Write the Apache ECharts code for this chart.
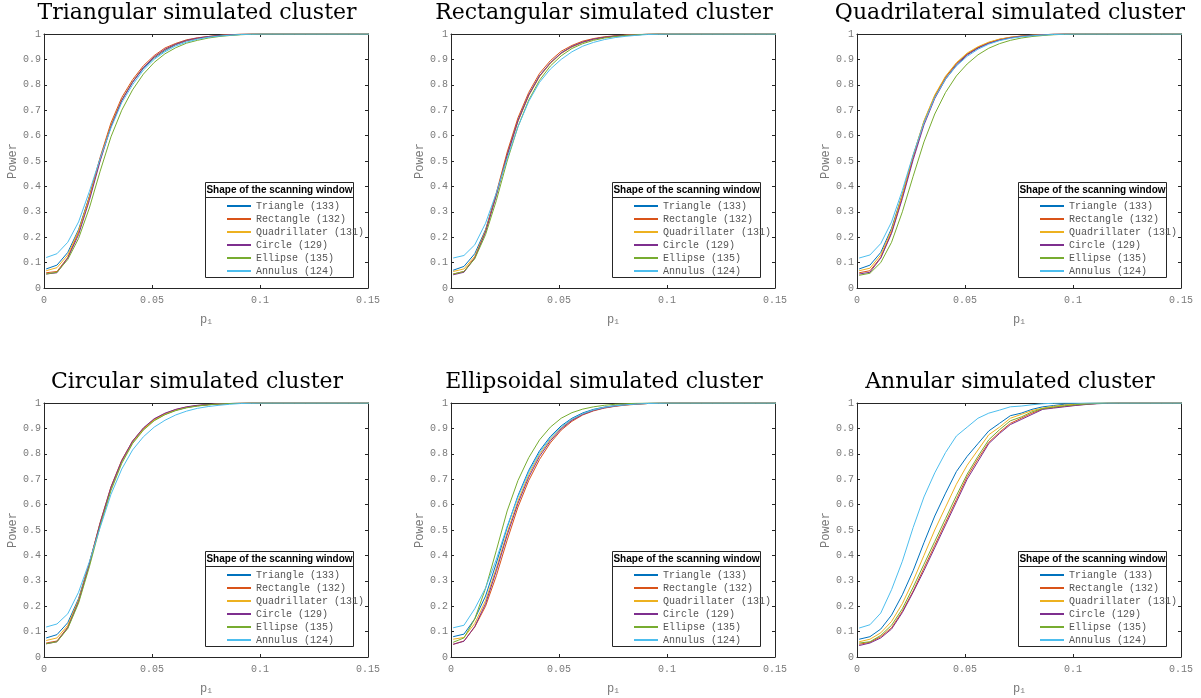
<!DOCTYPE html>
<html>
<head>
<meta charset="utf-8">
<script src="https://cdn.jsdelivr.net/npm/echarts@6/dist/echarts.min.js"></script>
<style>
html, body { margin: 0; padding: 0; background: #fff; }
#powerChart { width: 1201px; height: 698px; }
</style>
</head>
<body>
<div id="powerChart"></div>
<script>
// p1 values where power was evaluated
const pValues = [0.001, 0.006, 0.011, 0.016, 0.021, 0.026, 0.031, 0.036, 0.041, 0.046,
    0.051, 0.056, 0.061, 0.066, 0.071, 0.076, 0.081, 0.086, 0.091, 0.096,
    0.101, 0.106, 0.111, 0.116, 0.121, 0.126, 0.131, 0.136, 0.141, 0.146, 0.151];

const windowNames = ["Triangle (133)", "Rectangle (132)", "Quadrillater (131)", "Circle (129)", "Ellipse (135)", "Annulus (124)"];
const clusterTitles = ["Triangular simulated cluster", "Rectangular simulated cluster", "Quadrilateral simulated cluster",
    "Circular simulated cluster", "Ellipsoidal simulated cluster", "Annular simulated cluster"];

// Triangular cluster
const triTriangle = [0.075,0.090,0.140,0.230,0.360,0.510,0.640,0.740,0.810,0.865,0.905,0.935,0.958,0.973,0.982,0.989,0.993,0.996,0.998,0.999,1,1,1,1,1,1,1,1,1,1,1];
const triRectangle = [0.060,0.065,0.120,0.220,0.360,0.515,0.650,0.750,0.820,0.875,0.915,0.945,0.963,0.977,0.985,0.990,0.994,0.997,0.999,1,1,1,1,1,1,1,1,1,1,1,1];
const triQuad = [0.068,0.080,0.130,0.225,0.355,0.505,0.640,0.740,0.812,0.868,0.908,0.938,0.960,0.974,0.983,0.990,0.994,0.997,0.999,1,1,1,1,1,1,1,1,1,1,1,1];
const triCircle = [0.055,0.060,0.118,0.210,0.345,0.500,0.635,0.738,0.810,0.868,0.910,0.940,0.960,0.975,0.984,0.990,0.994,0.997,0.999,1,1,1,1,1,1,1,1,1,1,1,1];
const triEllipse = [0.055,0.062,0.112,0.195,0.315,0.460,0.595,0.700,0.780,0.842,0.888,0.922,0.946,0.964,0.975,0.984,0.990,0.994,0.997,0.999,1,1,1,1,1,1,1,1,1,1,1];
const triAnnulus = [0.120,0.135,0.180,0.260,0.380,0.510,0.630,0.730,0.800,0.858,0.900,0.930,0.953,0.968,0.979,0.987,0.992,0.995,0.998,0.999,1,1,1,1,1,1,1,1,1,1,1];

// Rectangular cluster
const recTriangle = [0.070,0.085,0.135,0.230,0.370,0.525,0.660,0.760,0.835,0.885,0.925,0.950,0.968,0.980,0.987,0.992,0.995,0.997,0.999,1,1,1,1,1,1,1,1,1,1,1,1];
const recRectangle = [0.055,0.065,0.120,0.225,0.375,0.535,0.670,0.770,0.845,0.895,0.932,0.955,0.972,0.982,0.989,0.993,0.996,0.998,0.999,1,1,1,1,1,1,1,1,1,1,1,1];
const recQuad = [0.065,0.075,0.125,0.225,0.365,0.520,0.655,0.757,0.832,0.884,0.923,0.949,0.967,0.979,0.986,0.991,0.995,0.997,0.999,1,1,1,1,1,1,1,1,1,1,1,1];
const recCircle = [0.052,0.062,0.118,0.220,0.365,0.522,0.658,0.760,0.835,0.887,0.925,0.951,0.968,0.980,0.987,0.992,0.995,0.997,0.999,1,1,1,1,1,1,1,1,1,1,1,1];
const recEllipse = [0.055,0.065,0.115,0.210,0.345,0.500,0.635,0.740,0.818,0.874,0.914,0.943,0.962,0.975,0.984,0.990,0.994,0.997,0.999,1,1,1,1,1,1,1,1,1,1,1,1];
const recAnnulus = [0.118,0.128,0.170,0.255,0.375,0.510,0.635,0.735,0.810,0.862,0.900,0.930,0.952,0.967,0.978,0.986,0.991,0.995,0.998,0.999,1,1,1,1,1,1,1,1,1,1,1];

// Quadrilateral cluster
const quaTriangle = [0.075,0.090,0.140,0.235,0.370,0.520,0.655,0.755,0.830,0.882,0.920,0.946,0.965,0.978,0.986,0.991,0.995,0.997,0.999,1,1,1,1,1,1,1,1,1,1,1,1];
const quaRectangle = [0.060,0.068,0.120,0.220,0.360,0.515,0.652,0.755,0.830,0.884,0.922,0.948,0.966,0.979,0.987,0.992,0.995,0.997,0.999,1,1,1,1,1,1,1,1,1,1,1,1];
const quaQuad = [0.068,0.078,0.130,0.228,0.368,0.522,0.658,0.760,0.834,0.887,0.925,0.950,0.968,0.980,0.987,0.992,0.995,0.997,0.999,1,1,1,1,1,1,1,1,1,1,1,1];
const quaCircle = [0.055,0.062,0.118,0.215,0.352,0.505,0.642,0.746,0.822,0.877,0.917,0.944,0.963,0.976,0.985,0.991,0.994,0.997,0.999,1,1,1,1,1,1,1,1,1,1,1,1];
const quaEllipse = [0.050,0.058,0.100,0.180,0.300,0.440,0.575,0.685,0.770,0.835,0.882,0.918,0.944,0.962,0.975,0.984,0.990,0.994,0.997,0.999,1,1,1,1,1,1,1,1,1,1,1];
const quaAnnulus = [0.118,0.130,0.175,0.260,0.385,0.525,0.650,0.750,0.822,0.874,0.912,0.940,0.960,0.974,0.983,0.989,0.993,0.996,0.998,0.999,1,1,1,1,1,1,1,1,1,1,1];

// Circular cluster
const cirTriangle = [0.075,0.088,0.135,0.230,0.370,0.525,0.665,0.770,0.845,0.897,0.933,0.955,0.972,0.982,0.989,0.993,0.996,0.998,0.999,1,1,1,1,1,1,1,1,1,1,1,1];
const cirRectangle = [0.055,0.063,0.118,0.222,0.370,0.530,0.670,0.775,0.850,0.900,0.936,0.958,0.974,0.984,0.990,0.994,0.996,0.998,0.999,1,1,1,1,1,1,1,1,1,1,1,1];
const cirQuad = [0.065,0.075,0.125,0.225,0.368,0.525,0.665,0.770,0.846,0.897,0.933,0.956,0.972,0.983,0.989,0.993,0.996,0.998,0.999,1,1,1,1,1,1,1,1,1,1,1,1];
const cirCircle = [0.052,0.060,0.115,0.218,0.365,0.527,0.668,0.773,0.850,0.902,0.938,0.960,0.975,0.985,0.991,0.994,0.997,0.998,0.999,1,1,1,1,1,1,1,1,1,1,1,1];
const cirEllipse = [0.052,0.060,0.112,0.212,0.355,0.515,0.655,0.762,0.840,0.893,0.930,0.954,0.970,0.981,0.988,0.993,0.996,0.998,0.999,1,1,1,1,1,1,1,1,1,1,1,1];
const cirAnnulus = [0.118,0.130,0.170,0.255,0.375,0.510,0.640,0.740,0.815,0.867,0.905,0.932,0.953,0.968,0.979,0.986,0.991,0.995,0.998,0.999,1,1,1,1,1,1,1,1,1,1,1];

// Ellipsoidal cluster
const ellTriangle = [0.080,0.090,0.150,0.240,0.370,0.510,0.635,0.735,0.812,0.868,0.910,0.940,0.961,0.975,0.984,0.990,0.994,0.997,0.999,1,1,1,1,1,1,1,1,1,1,1,1];
const ellRectangle = [0.050,0.063,0.118,0.200,0.320,0.460,0.590,0.695,0.778,0.843,0.893,0.928,0.953,0.969,0.980,0.987,0.992,0.995,0.998,0.999,1,1,1,1,1,1,1,1,1,1,1];
const ellQuad = [0.070,0.077,0.132,0.222,0.350,0.490,0.615,0.718,0.798,0.857,0.902,0.935,0.957,0.972,0.982,0.989,0.993,0.996,0.998,0.999,1,1,1,1,1,1,1,1,1,1,1];
const ellCircle = [0.050,0.062,0.120,0.210,0.340,0.480,0.605,0.708,0.790,0.851,0.898,0.932,0.955,0.971,0.981,0.988,0.993,0.996,0.998,0.999,1,1,1,1,1,1,1,1,1,1,1];
const ellEllipse = [0.058,0.075,0.150,0.270,0.420,0.575,0.695,0.785,0.855,0.905,0.940,0.962,0.976,0.985,0.991,0.995,0.997,0.999,1,1,1,1,1,1,1,1,1,1,1,1,1];
const ellAnnulus = [0.115,0.125,0.190,0.272,0.385,0.515,0.630,0.728,0.805,0.862,0.905,0.937,0.958,0.973,0.983,0.989,0.993,0.996,0.998,0.999,1,1,1,1,1,1,1,1,1,1,1];

// Annular cluster
const annTriangle = [0.070,0.080,0.110,0.165,0.245,0.340,0.450,0.555,0.645,0.730,0.790,0.840,0.890,0.920,0.950,0.960,0.975,0.985,0.990,0.995,0.997,0.999,1,1,1,1,1,1,1,1,1];
const annRectangle = [0.050,0.058,0.080,0.115,0.180,0.260,0.350,0.440,0.530,0.620,0.710,0.780,0.845,0.885,0.920,0.940,0.960,0.977,0.982,0.987,0.991,0.995,0.998,0.999,1,1,1,1,1,1,1];
const annQuad = [0.060,0.070,0.095,0.140,0.210,0.300,0.400,0.500,0.590,0.680,0.755,0.815,0.875,0.905,0.940,0.955,0.970,0.980,0.987,0.992,0.995,0.998,1,1,1,1,1,1,1,1,1];
const annCircle = [0.045,0.055,0.075,0.110,0.175,0.255,0.340,0.430,0.520,0.610,0.700,0.770,0.840,0.880,0.915,0.935,0.955,0.975,0.980,0.985,0.990,0.994,0.997,0.999,1,1,1,1,1,1,1];
const annEllipse = [0.055,0.060,0.085,0.125,0.190,0.275,0.365,0.455,0.545,0.635,0.720,0.790,0.855,0.895,0.930,0.945,0.965,0.978,0.984,0.989,0.993,0.996,0.998,1,1,1,1,1,1,1,1];
const annAnnulus = [0.114,0.127,0.173,0.265,0.377,0.510,0.630,0.725,0.805,0.870,0.905,0.940,0.960,0.972,0.985,0.988,0.993,0.997,0.999,1,1,1,1,1,1,1,1,1,1,1,1];

const panelSeries = [
    [triTriangle, triRectangle, triQuad, triCircle, triEllipse, triAnnulus],
    [recTriangle, recRectangle, recQuad, recCircle, recEllipse, recAnnulus],
    [quaTriangle, quaRectangle, quaQuad, quaCircle, quaEllipse, quaAnnulus],
    [cirTriangle, cirRectangle, cirQuad, cirCircle, cirEllipse, cirAnnulus],
    [ellTriangle, ellRectangle, ellQuad, ellCircle, ellEllipse, ellAnnulus],
    [annTriangle, annRectangle, annQuad, annCircle, annEllipse, annAnnulus],
];

const colors = ["#0072BD", "#D95319", "#EDB120", "#7E2F8E", "#77AC30", "#4DBEEE"];
const MONO = '"Liberation Mono", "DejaVu Sans Mono", monospace';
const AXIS_COLOR = "#262626";
const LABEL_COLOR = "#7a7a7a";

// layout of the 2x3 panels
const lefts = [44, 451, 857];
const tops = [34, 403];
const W = 324, H = 254;

let grid = [], xAxis = [], yAxis = [], series = [], legend = [], graphic = [];

panelSeries.forEach((set, i) => {
    let left = lefts[i % 3], top = tops[Math.floor(i / 3)];
    grid.push({left: left, top: top, width: W, height: H, containLabel: false});

    let tick = {show: true, inside: true, length: 3, lineStyle: {color: AXIS_COLOR, width: 1}};
    let line = {show: true, onZero: false, lineStyle: {color: AXIS_COLOR, width: 1}};
    xAxis.push({
        type: "value", gridIndex: i, min: 0, max: 0.15, interval: 0.05, position: "bottom",
        axisLine: line, axisTick: tick, splitLine: {show: false},
        axisLabel: {color: LABEL_COLOR, fontFamily: MONO, fontSize: 10, margin: 7,
            formatter: v => String(+v.toFixed(2))},
        name: "{p|p}{s|1}", nameLocation: "middle", nameGap: 26,
        nameTextStyle: {
            color: LABEL_COLOR, fontFamily: MONO,
            rich: {
                p: {fontFamily: MONO, fontSize: 12, color: LABEL_COLOR, verticalAlign: "top", lineHeight: 12},
                s: {fontFamily: MONO, fontSize: 8, color: LABEL_COLOR, verticalAlign: "bottom", lineHeight: 8, padding: [7, 0, 0, 0]},
            }
        },
    });
    xAxis.push({
        type: "value", gridIndex: i, min: 0, max: 0.15, interval: 0.05, position: "top",
        axisLine: line, axisTick: tick, axisLabel: {show: false}, splitLine: {show: false},
    });
    yAxis.push({
        type: "value", gridIndex: i, min: 0, max: 1, interval: 0.1, position: "left",
        axisLine: line, axisTick: tick, splitLine: {show: false},
        axisLabel: {color: LABEL_COLOR, fontFamily: MONO, fontSize: 10, margin: 3,
            formatter: v => String(+v.toFixed(1))},
        name: "Power", nameLocation: "middle", nameGap: 22, nameRotate: 90,
        nameTextStyle: {color: LABEL_COLOR, fontFamily: MONO, fontSize: 12},
    });
    yAxis.push({
        type: "value", gridIndex: i, min: 0, max: 1, interval: 0.1, position: "right",
        axisLine: line, axisTick: tick, axisLabel: {show: false}, splitLine: {show: false},
    });

    set.forEach((vals, j) => {
        series.push({
            type: "line", name: windowNames[j], xAxisIndex: 2 * i, yAxisIndex: 2 * i,
            data: pValues.map((p, k) => [p, vals[k]]),
            symbol: "none", color: colors[j],
            lineStyle: {width: 1, color: colors[j]},
            animation: false, clip: true,
        });
    });

    legend.push({
        left: left + 183, top: top + 166, orient: "vertical", padding: 0,
        itemWidth: 24, itemHeight: 2, itemGap: 1, icon: "rect", selectedMode: false,
        textStyle: {fontFamily: MONO, fontSize: 10, color: "#555", lineHeight: 12},
        data: windowNames,
    });

    // legend frame and its heading
    graphic.push({
        type: "rect", z: 3, shape: {x: left + 161.5, y: top + 148.5, width: 148, height: 95},
        style: {fill: "#fff", stroke: AXIS_COLOR, lineWidth: 1},
    });
    graphic.push({
        type: "line", z: 3, shape: {x1: left + 161.5, y1: top + 163.5, x2: left + 309.5, y2: top + 163.5},
        style: {stroke: AXIS_COLOR, lineWidth: 1},
    });
    graphic.push({
        type: "text", z: 3, x: left + 235.5, y: top + 156,
        style: {text: "Shape of the scanning window", font: 'bold 10px "Liberation Sans", Arial, sans-serif',
            fill: "#000", align: "center", verticalAlign: "middle"},
    });
    // panel title
    graphic.push({
        type: "text", z: 3, x: left + W / 2 - 9, y: top - 32,
        style: {text: clusterTitles[i], font: '22px "DejaVu Serif", "Liberation Serif", serif',
            fill: "#000", align: "center", verticalAlign: "top"},
    });
});

let chart = echarts.init(document.getElementById("powerChart"));
chart.setOption({
    animation: false,
    backgroundColor: "#fff",
    grid: grid,
    xAxis: xAxis,
    yAxis: yAxis,
    legend: legend,
    graphic: graphic,
    series: series,
});
window.addEventListener("resize", () => chart.resize());
</script>
</body>
</html>
